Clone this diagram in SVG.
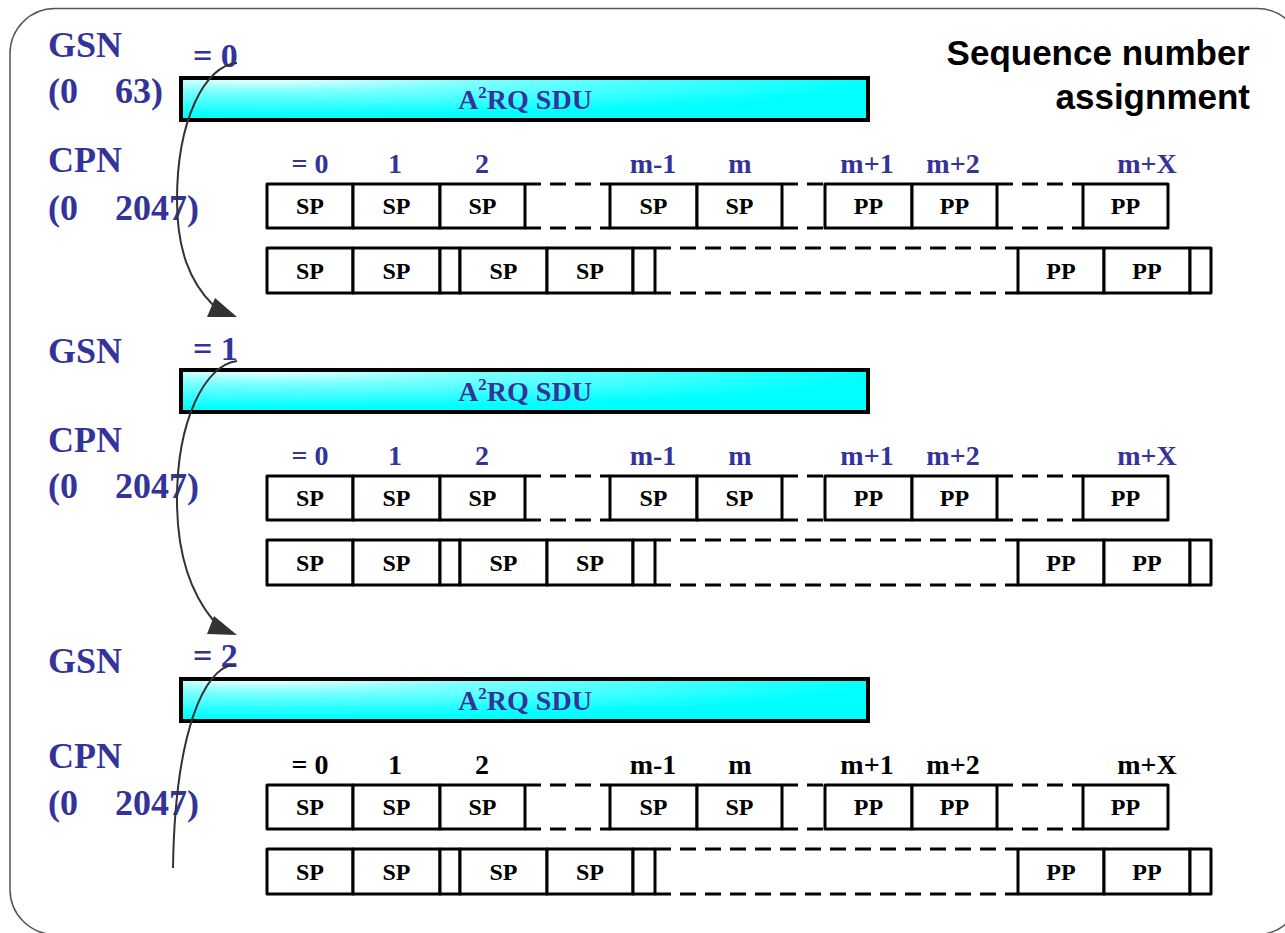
<svg xmlns="http://www.w3.org/2000/svg" width="1285" height="933" viewBox="0 0 1285 933">
<defs>
<radialGradient id="sdu" cx="0.12" cy="0" r="0.9" fx="0.12" fy="0">
<stop offset="0" stop-color="#f4ffff"/>
<stop offset="0.35" stop-color="#7fffff"/>
<stop offset="1" stop-color="#00ffff"/>
</radialGradient>
<style>
.lbl{font-family:"Liberation Serif","Times New Roman",serif;font-weight:bold;font-size:36px;fill:#333399}
.eq{font-family:"Liberation Serif","Times New Roman",serif;font-weight:bold;font-size:34px;fill:#333399}
.num{font-family:"Liberation Serif","Times New Roman",serif;font-weight:bold;font-size:28px;fill:#333399;text-anchor:middle}
.num.k{fill:#000}
.sdu{fill:url(#sdu);stroke:#000;stroke-width:4}
.sdut{font-family:"Liberation Serif","Times New Roman",serif;font-weight:bold;font-size:28px;fill:#333399;text-anchor:middle}
.box{fill:#fff;stroke:#000;stroke-width:3;stroke-linejoin:round}
.dash{fill:none;stroke:#000;stroke-width:3;stroke-dasharray:16 9}
.bt{font-family:"Liberation Serif","Times New Roman",serif;font-weight:bold;font-size:24px;fill:#000;text-anchor:middle}
.curve{fill:none;stroke:#333;stroke-width:2}
.head{fill:#333}
.title{font-family:"Liberation Sans",Arial,sans-serif;font-weight:bold;font-size:35px;fill:#000;text-anchor:end}
</style>
</defs>
<rect x="0" y="0" width="1285" height="933" fill="#fff"/>
<rect id="frame" x="10" y="8.5" width="1292" height="926" rx="45" ry="45" fill="none" stroke="#555" stroke-width="1.5"/>
<g id="title">
<text class="title" x="1250" y="65">Sequence number</text>
<text class="title" x="1250" y="109">assignment</text>
</g>

<!-- Section 1 -->
<g id="sec1-labels">
<text class="lbl" x="48" y="57">GSN</text>
<text class="lbl" y="103"><tspan x="48">(0</tspan><tspan x="115">63)</tspan></text>
<text class="lbl" x="48" y="172">CPN</text>
<text class="lbl" y="220"><tspan x="48">(0</tspan><tspan x="115">2047)</tspan></text>
<text class="eq" x="193" y="67">= 0</text>
</g>
<g id="sec1-sdu">
<rect class="sdu" x="181" y="78" width="687" height="42"/>
<text class="sdut" x="525" y="109">A<tspan font-size="17" dy="-11">2</tspan><tspan dy="11">RQ SDU</tspan></text>
</g>
<g id="sec1-cpn" transform="translate(0,0)">
<g class="nums">
<text class="num" x="310" y="173">= 0</text>
<text class="num" x="395" y="173">1</text>
<text class="num" x="482" y="173">2</text>
<text class="num" x="653" y="173">m-1</text>
<text class="num" x="740" y="173">m</text>
<text class="num" x="867" y="173">m+1</text>
<text class="num" x="953" y="173">m+2</text>
<text class="num" x="1147" y="173">m+X</text>
</g>
<g id="sec1-row1">
<path class="dash" d="M525,184H610M525,228H610M782,184H825M782,228H825M997,184H1083M997,228H1083"/>
<rect class="box" x="267" y="184" width="86" height="44"/>
<rect class="box" x="353" y="184" width="87" height="44"/>
<rect class="box" x="440" y="184" width="85" height="44"/>
<rect class="box" x="610" y="184" width="87" height="44"/>
<rect class="box" x="697" y="184" width="85" height="44"/>
<rect class="box" x="825" y="184" width="87" height="44"/>
<rect class="box" x="912" y="184" width="85" height="44"/>
<rect class="box" x="1083" y="184" width="85" height="44"/>
<text class="bt" x="310" y="214">SP</text>
<text class="bt" x="396.5" y="214">SP</text>
<text class="bt" x="482.5" y="214">SP</text>
<text class="bt" x="653.5" y="214">SP</text>
<text class="bt" x="739.5" y="214">SP</text>
<text class="bt" x="868.5" y="214">PP</text>
<text class="bt" x="954.5" y="214">PP</text>
<text class="bt" x="1125.5" y="214">PP</text>
</g>
<g id="sec1-row2">
<path class="dash" d="M655,248H1018M655,293H1018"/>
<rect class="box" x="267" y="248" width="86" height="45"/>
<rect class="box" x="353" y="248" width="87" height="45"/>
<rect class="box" x="440" y="248" width="20" height="45"/>
<rect class="box" x="460" y="248" width="87" height="45"/>
<rect class="box" x="547" y="248" width="86" height="45"/>
<rect class="box" x="633" y="248" width="22" height="45"/>
<rect class="box" x="1018" y="248" width="86" height="45"/>
<rect class="box" x="1104" y="248" width="86" height="45"/>
<rect class="box" x="1190" y="248" width="21" height="45"/>
<text class="bt" x="310" y="279">SP</text>
<text class="bt" x="396.5" y="279">SP</text>
<text class="bt" x="503.5" y="279">SP</text>
<text class="bt" x="590" y="279">SP</text>
<text class="bt" x="1061" y="279">PP</text>
<text class="bt" x="1147" y="279">PP</text>
</g>
</g>

<!-- Section 2 -->
<g id="sec2-labels">
<text class="lbl" x="48" y="363">GSN</text>
<text class="lbl" x="48" y="452">CPN</text>
<text class="lbl" y="498"><tspan x="48">(0</tspan><tspan x="115">2047)</tspan></text>
<text class="eq" x="193" y="360">= 1</text>
</g>
<g id="sec2-sdu">
<rect class="sdu" x="181" y="370" width="687" height="42"/>
<text class="sdut" x="525" y="401">A<tspan font-size="17" dy="-11">2</tspan><tspan dy="11">RQ SDU</tspan></text>
</g>
<g id="sec2-cpn" transform="translate(0,292)">
<g class="nums">
<text class="num" x="310" y="173">= 0</text>
<text class="num" x="395" y="173">1</text>
<text class="num" x="482" y="173">2</text>
<text class="num" x="653" y="173">m-1</text>
<text class="num" x="740" y="173">m</text>
<text class="num" x="867" y="173">m+1</text>
<text class="num" x="953" y="173">m+2</text>
<text class="num" x="1147" y="173">m+X</text>
</g>
<g id="sec2-row1">
<path class="dash" d="M525,184H610M525,228H610M782,184H825M782,228H825M997,184H1083M997,228H1083"/>
<rect class="box" x="267" y="184" width="86" height="44"/>
<rect class="box" x="353" y="184" width="87" height="44"/>
<rect class="box" x="440" y="184" width="85" height="44"/>
<rect class="box" x="610" y="184" width="87" height="44"/>
<rect class="box" x="697" y="184" width="85" height="44"/>
<rect class="box" x="825" y="184" width="87" height="44"/>
<rect class="box" x="912" y="184" width="85" height="44"/>
<rect class="box" x="1083" y="184" width="85" height="44"/>
<text class="bt" x="310" y="214">SP</text>
<text class="bt" x="396.5" y="214">SP</text>
<text class="bt" x="482.5" y="214">SP</text>
<text class="bt" x="653.5" y="214">SP</text>
<text class="bt" x="739.5" y="214">SP</text>
<text class="bt" x="868.5" y="214">PP</text>
<text class="bt" x="954.5" y="214">PP</text>
<text class="bt" x="1125.5" y="214">PP</text>
</g>
<g id="sec2-row2">
<path class="dash" d="M655,248H1018M655,293H1018"/>
<rect class="box" x="267" y="248" width="86" height="45"/>
<rect class="box" x="353" y="248" width="87" height="45"/>
<rect class="box" x="440" y="248" width="20" height="45"/>
<rect class="box" x="460" y="248" width="87" height="45"/>
<rect class="box" x="547" y="248" width="86" height="45"/>
<rect class="box" x="633" y="248" width="22" height="45"/>
<rect class="box" x="1018" y="248" width="86" height="45"/>
<rect class="box" x="1104" y="248" width="86" height="45"/>
<rect class="box" x="1190" y="248" width="21" height="45"/>
<text class="bt" x="310" y="279">SP</text>
<text class="bt" x="396.5" y="279">SP</text>
<text class="bt" x="503.5" y="279">SP</text>
<text class="bt" x="590" y="279">SP</text>
<text class="bt" x="1061" y="279">PP</text>
<text class="bt" x="1147" y="279">PP</text>
</g>
</g>

<!-- Section 3 -->
<g id="sec3-labels">
<text class="lbl" x="48" y="673">GSN</text>
<text class="lbl" x="48" y="768">CPN</text>
<text class="lbl" y="815"><tspan x="48">(0</tspan><tspan x="115">2047)</tspan></text>
<text class="eq" x="193" y="667">= 2</text>
</g>
<g id="sec3-sdu">
<rect class="sdu" x="181" y="679" width="687" height="42"/>
<text class="sdut" x="525" y="710">A<tspan font-size="17" dy="-11">2</tspan><tspan dy="11">RQ SDU</tspan></text>
</g>
<g id="sec3-cpn" transform="translate(0,601)">
<g class="nums">
<text class="num k" x="310" y="173">= 0</text>
<text class="num k" x="395" y="173">1</text>
<text class="num k" x="482" y="173">2</text>
<text class="num k" x="653" y="173">m-1</text>
<text class="num k" x="740" y="173">m</text>
<text class="num k" x="867" y="173">m+1</text>
<text class="num k" x="953" y="173">m+2</text>
<text class="num k" x="1147" y="173">m+X</text>
</g>
<g id="sec3-row1">
<path class="dash" d="M525,184H610M525,228H610M782,184H825M782,228H825M997,184H1083M997,228H1083"/>
<rect class="box" x="267" y="184" width="86" height="44"/>
<rect class="box" x="353" y="184" width="87" height="44"/>
<rect class="box" x="440" y="184" width="85" height="44"/>
<rect class="box" x="610" y="184" width="87" height="44"/>
<rect class="box" x="697" y="184" width="85" height="44"/>
<rect class="box" x="825" y="184" width="87" height="44"/>
<rect class="box" x="912" y="184" width="85" height="44"/>
<rect class="box" x="1083" y="184" width="85" height="44"/>
<text class="bt" x="310" y="214">SP</text>
<text class="bt" x="396.5" y="214">SP</text>
<text class="bt" x="482.5" y="214">SP</text>
<text class="bt" x="653.5" y="214">SP</text>
<text class="bt" x="739.5" y="214">SP</text>
<text class="bt" x="868.5" y="214">PP</text>
<text class="bt" x="954.5" y="214">PP</text>
<text class="bt" x="1125.5" y="214">PP</text>
</g>
<g id="sec3-row2">
<path class="dash" d="M655,248H1018M655,293H1018"/>
<rect class="box" x="267" y="248" width="86" height="45"/>
<rect class="box" x="353" y="248" width="87" height="45"/>
<rect class="box" x="440" y="248" width="20" height="45"/>
<rect class="box" x="460" y="248" width="87" height="45"/>
<rect class="box" x="547" y="248" width="86" height="45"/>
<rect class="box" x="633" y="248" width="22" height="45"/>
<rect class="box" x="1018" y="248" width="86" height="45"/>
<rect class="box" x="1104" y="248" width="86" height="45"/>
<rect class="box" x="1190" y="248" width="21" height="45"/>
<text class="bt" x="310" y="279">SP</text>
<text class="bt" x="396.5" y="279">SP</text>
<text class="bt" x="503.5" y="279">SP</text>
<text class="bt" x="590" y="279">SP</text>
<text class="bt" x="1061" y="279">PP</text>
<text class="bt" x="1147" y="279">PP</text>
</g>
</g>

<g id="connectors">
<path class="curve" d="M237,63 C205,65 177,120 177,200 C177,250 190,282 213,305"/>
<polygon class="head" points="215,298 207,317 237,317"/>
<path class="curve" d="M237,361 C205,365 177,420 177,500 C177,555 190,592 213,620"/>
<polygon class="head" points="214,616 207,634 237,635"/>
<path class="curve" d="M233,665 C205,668 175,730 173,868"/>
</g>
</svg>
